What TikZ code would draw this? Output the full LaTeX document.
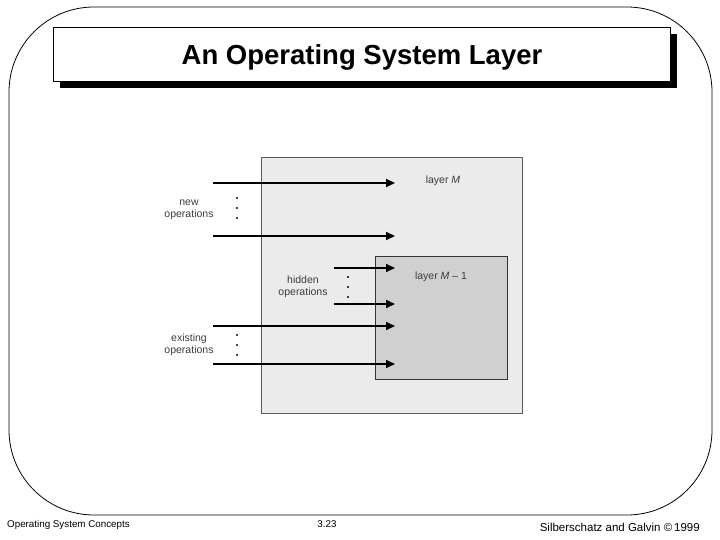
\documentclass[tikz,border=0pt]{standalone}
\usepackage{fontspec}
\setmainfont{Liberation Sans}
\usepackage{tikz}
\usetikzlibrary{arrows.meta, positioning, calc}
\usepackage{xcolor}
\definecolor{layerouter}{RGB}{235,235,235}
\definecolor{layerinner}{RGB}{208,208,208}
\definecolor{labelgray}{RGB}{60,60,60}

\tikzset{
  oparrow/.style={line width=1.8pt, -{Triangle[length=9pt, width=8pt]}},
  oplabel/.style={font=\fontsize{10.5}{12.5}\selectfont, text=labelgray, align=center, inner sep=0pt},
  footer/.style={font=\fontsize{9.8}{11}\selectfont, inner sep=0pt}
}

\begin{document}
\begin{tikzpicture}[x=1pt, y=-1pt]
  \useasboundingbox (0,0) rectangle (720,540);

  % Frame
  \draw[line width=0.8pt, rounded corners=85pt] (9,7) rectangle (712,515);

  % Title
  \fill[black] (60,34) rectangle (677,88);
  \draw[fill=white, line width=0.8pt] (53,27) rectangle (670,81);
  \node[font=\fontsize{27.5}{30}\selectfont\bfseries, inner sep=0pt] (title) at (362,57) {An Operating System Layer};

  % Layers
  \draw[fill=layerouter, draw=gray!70!black, line width=0.8pt] (261,157) rectangle (522,413);
  \draw[fill=layerinner, draw=black!80, line width=1pt] (375,256) rectangle (507,379);
  \node[oplabel] (layerM) at (443,181) {layer \textit{M}};
  \node[oplabel] (layerMm) at (441,277) {layer \textit{M} -- 1};

  % Operations
  \coordinate (new1s) at (213,183);  \coordinate (new1e) at (395,183);
  \coordinate (new2s) at (213,236);  \coordinate (new2e) at (395,236);
  \coordinate (hid1s) at (334,268);  \coordinate (hid1e) at (395,268);
  \coordinate (hid2s) at (334,304);  \coordinate (hid2e) at (395,304);
  \coordinate (ext1s) at (213,326);  \coordinate (ext1e) at (395,326);
  \coordinate (ext2s) at (213,364);  \coordinate (ext2e) at (395,364);

  \draw[oparrow] (new1s) -- (new1e);
  \draw[oparrow] (new2s) -- (new2e);
  \draw[oparrow] (hid1s) -- (hid1e);
  \draw[oparrow] (hid2s) -- (hid2e);
  \draw[oparrow] (ext1s) -- (ext1e);
  \draw[oparrow] (ext2s) -- (ext2e);

  \node[oplabel] (newops) at (189,210) {new\\operations};
  \node[oplabel] (hidops) at (303,287) {hidden\\operations};
  \node[oplabel] (extops) at (189,345) {existing\\operations};

  \foreach \yy in {198,208,218} {
    \fill (237,\yy) circle (1.2pt);
  }
  \foreach \yy in {277,287,297} {
    \fill (348,\yy) circle (1.2pt);
  }
  \foreach \yy in {335,345,355} {
    \fill (237,\yy) circle (1.2pt);
  }

  % Footer
  \node[footer, anchor=base west] (concepts) at (7,527) {Operating System Concepts};
  \node[footer, anchor=base] (page) at (327,527) {3.23};
  \node[footer, font=\fontsize{11.5}{12}\selectfont, anchor=base east] (authors) at (700,531) {Silberschatz and Galvin \textcopyright\,1999};
\end{tikzpicture}
\end{document}
